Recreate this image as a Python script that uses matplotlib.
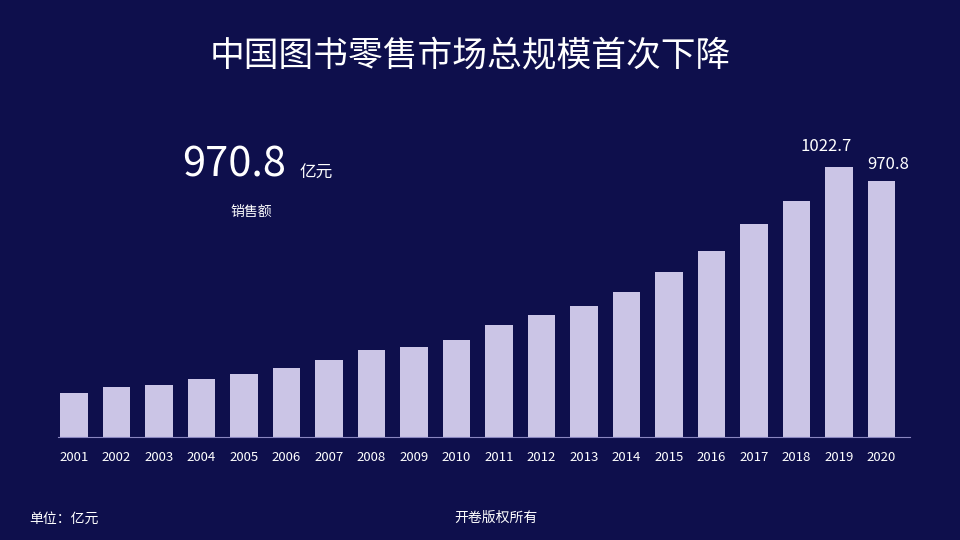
import matplotlib.pyplot as plt
import numpy as np

plt.rcParams['font.family'] = ['Noto Sans CJK SC', 'DejaVu Sans']

years = [str(y) for y in range(2001, 2021)]
sales = [167, 189, 197, 220, 239, 261, 292, 330, 341, 367,
         424, 462, 496, 549, 625, 705, 807, 894, 1022.7, 970.8]

bg = '#0e0f4c'
bar_color = '#cbc5e6'

fig = plt.figure(figsize=(9.6, 5.4), dpi=100, facecolor=bg)
ax = fig.add_axes([58 / 960, 1 - 437 / 540, 852 / 960, 300 / 540], facecolor=bg)

x = np.arange(len(years))
ax.bar(x, sales, width=0.65, color=bar_color)
ax.set_xlim(-0.376, 19.67)
ax.set_ylim(0, 1136)
ax.set_xticks(x)
ax.set_xticklabels(years, color='white', fontsize=9.5)
ax.tick_params(axis='x', length=0, pad=10)
ax.set_yticks([])
for s in ['top', 'right', 'left']:
    ax.spines[s].set_visible(False)
ax.spines['bottom'].set_color('#8a86c0')

ax.text(x[-2] - 0.3, sales[-2] + 45, f'{sales[-2]}', color='white', fontsize=12, ha='center', va='bottom')
ax.text(x[-1] + 0.15, sales[-1] + 30, f'{sales[-1]}', color='white', fontsize=12, ha='center', va='bottom')

fig.text(0.49, 0.895, '中国图书零售市场总规模首次下降', color='white', fontsize=25,
         ha='center', va='center', fontweight='medium')
fig.text(0.19, 0.695, f'{sales[-1]}', color='white', fontsize=30, ha='left', va='center')
fig.text(0.312, 0.68, '亿元', color='white', fontsize=12, ha='left', va='center')
fig.text(0.24, 0.607, '销售额', color='white', fontsize=10, ha='left', va='center')
fig.text(0.03, 0.04, '单位：亿元', color='white', fontsize=10, ha='left', va='center')
fig.text(0.473, 0.04, '开卷版权所有', color='white', fontsize=10, ha='left', va='center')

fig.savefig('out.png', dpi=100, facecolor=bg)
